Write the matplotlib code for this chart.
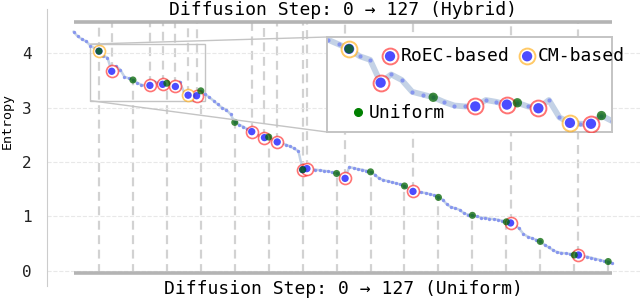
import matplotlib
matplotlib.use('Agg')
import matplotlib.pyplot as plt
import numpy as np
from matplotlib.colors import to_rgba
from matplotlib.lines import Line2D
from mpl_toolkits.axes_grid1.inset_locator import mark_inset

plt.rcParams['font.family'] = ['DejaVu Sans Mono']

# entropy at every diffusion step (0..127)
entropy = [
    4.40, 4.31, 4.26, 4.22, 4.14, 4.09, 4.04, 3.96, 3.92, 3.67,
    3.76, 3.70, 3.57, 3.54, 3.51, 3.46, 3.42, 3.41, 3.41, 3.48,
    3.46, 3.43, 3.45, 3.41, 3.39, 3.48, 3.29, 3.23, 3.22, 3.22,
    3.31, 3.25, 3.19, 3.13, 3.06, 3.00, 2.96, 2.88, 2.73, 2.69,
    2.65, 2.60, 2.56, 2.52, 2.47, 2.45, 2.46, 2.41, 2.37, 2.35,
    2.32, 2.29, 2.25, 2.20, 1.86, 1.88, 1.87, 1.86, 1.85, 1.84,
    1.83, 1.81, 1.79, 1.75, 1.70, 1.91, 1.89, 1.87, 1.86, 1.84,
    1.82, 1.77, 1.70, 1.67, 1.65, 1.63, 1.61, 1.59, 1.56, 1.50,
    1.46, 1.45, 1.44, 1.43, 1.41, 1.39, 1.35, 1.31, 1.22, 1.17,
    1.15, 1.12, 1.06, 1.03, 1.02, 1.00, 0.98, 0.97, 0.96, 0.95,
    0.94, 0.92, 0.90, 0.88, 0.84, 0.78, 0.68, 0.63, 0.60, 0.57,
    0.54, 0.48, 0.43, 0.38, 0.34, 0.33, 0.32, 0.31, 0.29, 0.29,
    0.27, 0.26, 0.24, 0.22, 0.20, 0.18, 0.17, 0.14,
]
uniform_steps = [6, 14, 22, 30, 38, 46, 54, 62, 70, 78, 86, 94, 102, 110, 118, 126]
roec_steps = [9, 18, 21, 24, 29, 42, 45, 48, 54, 55, 64, 80, 103, 119]
cm_steps = [6, 27]
yticks = [0, 1, 2, 3, 4]

steps = np.arange(len(entropy))
ent = np.array(entropy)
hybrid_steps = sorted(set(roec_steps + cm_steps))

TOP, BOT = 4.58, -0.04
LINE_C = 'lightsteelblue'
DOT_C = '#8796ee'
BLUE = to_rgba('blue', 0.7)
GREEN = to_rgba('#006400', 0.75)
RED_RING = to_rgba('red', 0.55)
ORANGE_RING = to_rgba('orange', 0.6)

fig = plt.figure(figsize=(6.4, 2.98), dpi=100)
ax = fig.add_axes([47 / 640, 1 - 286 / 298, 1 - 47 / 640, 276.7 / 298])
ax.set_xlim(-6.25, 133.5)
ax.set_ylim(-0.28, 4.81)

# guide lines
ax.plot([steps[0], steps[-1]], [TOP, TOP], color='#b4b4b4', lw=2.6, solid_capstyle='butt', zorder=1)
ax.plot([steps[0], steps[-1]], [BOT, BOT], color='#b4b4b4', lw=2.6, solid_capstyle='butt', zorder=1)
ax.vlines(hybrid_steps, ent[hybrid_steps], TOP, colors='#d2d2d2', lw=1.6,
          linestyles=(0, (4, 2.5)), zorder=0)
ax.vlines(uniform_steps, BOT, ent[uniform_steps], colors='#d2d2d2', lw=1.6,
          linestyles=(0, (4, 2.5)), zorder=0)

ax.text(63.5, 4.80, 'Diffusion Step: 0 → 127 (Hybrid)', ha='center', va='center', fontsize=13)
ax.text(63.5, -0.335, 'Diffusion Step: 0 → 127 (Uniform)', ha='center', va='center', fontsize=13)


def draw_curve(a, lw, ms, ring_s, dot_s, green_s, ring_lw):
    a.plot(steps, ent, color=LINE_C, lw=lw, alpha=0.75, zorder=2, solid_capstyle='round')
    a.plot(steps, ent, ls='none', marker='o', ms=ms, color=DOT_C, mec='none', zorder=2.5)
    r = a.scatter(steps[roec_steps], ent[roec_steps], s=ring_s, facecolor='white',
                  edgecolor=RED_RING, linewidths=ring_lw, zorder=3)
    c = a.scatter(steps[cm_steps], ent[cm_steps], s=ring_s, facecolor='white',
                  edgecolor=ORANGE_RING, linewidths=ring_lw, zorder=3)
    b = a.scatter(steps[hybrid_steps], ent[hybrid_steps], s=dot_s, color=BLUE,
                  edgecolor='none', zorder=4)
    g = a.scatter(steps[uniform_steps], ent[uniform_steps], s=green_s, color=GREEN,
                  edgecolor='none', zorder=5)
    return r, c, b, g


draw_curve(ax, 1.8, 2.4, 75, 28, 26, 1.2)

for side in ['top', 'right', 'bottom']:
    ax.spines[side].set_visible(False)
ax.spines['left'].set_color('#cccccc')
ax.set_xticks([])
ax.set_yticks(yticks)
ax.tick_params(axis='y', length=0, pad=11, labelsize=11.5, labelcolor='#222222')
ax.grid(axis='y', color='#e8e8e8', lw=0.8, ls='--')
ax.set_axisbelow(True)
ax.set_ylabel('Entropy', fontsize=9.5)
ax.yaxis.set_label_coords(-0.056, 0.596)

# zoomed inset
axins = fig.add_axes([327 / 640, 1 - 132 / 298, 285 / 640, 95 / 298])
axins.set_xlim(3.9, 31.0)
axins.set_ylim(3.13, 4.17)
r, c, b, g = draw_curve(axins, 4.2, 3.0, 130, 55, 45, 1.4)
axins.set_xticks([])
axins.set_yticks([])
for sp in axins.spines.values():
    sp.set_color('#c4c4c4')
    sp.set_linewidth(1.4)

mark_inset(ax, axins, loc1=2, loc2=3, fc='none', ec='#c4c4c4', lw=1.0, zorder=1.5)

leg1 = axins.legend([(r, b), (c, b)], ['RoEC-based', 'CM-based'], ncol=2, frameon=False,
                    fontsize=13, handlelength=0.6, handletextpad=0.3, columnspacing=0.67,
                    borderpad=0, borderaxespad=0, loc='center left',
                    bbox_to_anchor=(384.6 / 640, 1 - 56 / 298), bbox_transform=fig.transFigure)
axins.add_artist(leg1)
green_proxy = Line2D([], [], ls='none', marker='o', color='green', markersize=5.5)
axins.legend([green_proxy], ['Uniform'], frameon=False, fontsize=13, handlelength=0.6,
             handletextpad=0.3, borderpad=0, borderaxespad=0, loc='center left',
             bbox_to_anchor=(352.6 / 640, 1 - 113 / 298), bbox_transform=fig.transFigure)

plt.savefig('out.png', dpi=100)
